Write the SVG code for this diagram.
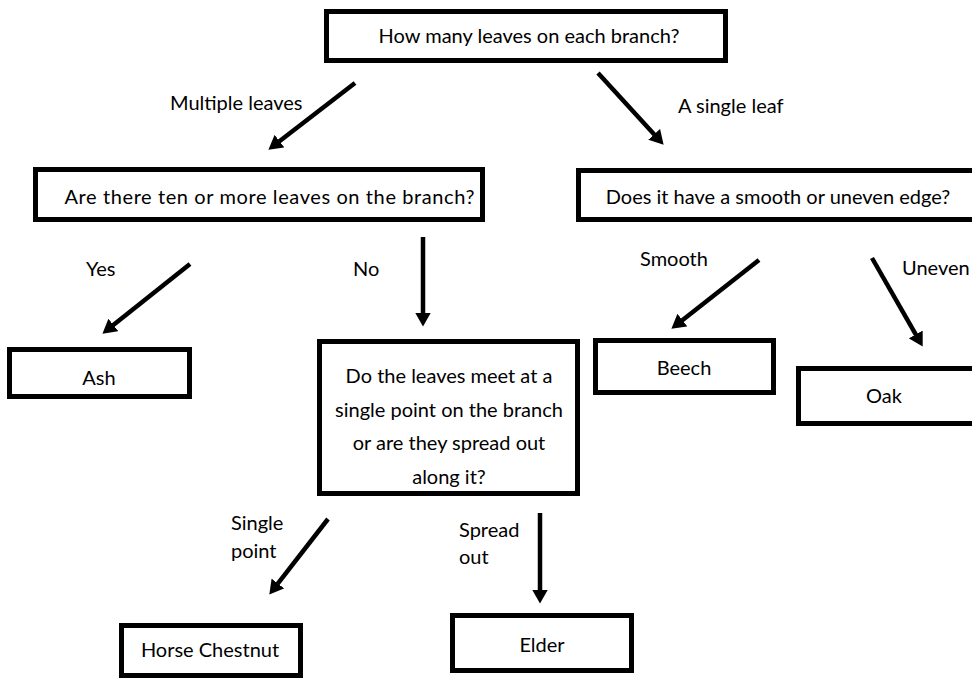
<svg xmlns="http://www.w3.org/2000/svg" width="972" height="678" viewBox="0 0 972 678">
<style>
.box{fill:#fff;stroke:#000;stroke-width:5}
.t{font-family:Lato,"Open Sans","Liberation Sans",sans-serif;font-size:20px;fill:#000}
.c{text-anchor:middle}
.arrow{stroke:#000;stroke-width:4.5;fill:none;marker-end:url(#ah)}
</style>
<defs>
<marker id="ah" markerUnits="userSpaceOnUse" markerWidth="16" markerHeight="16" viewBox="0 0 16 16" refX="0.5" refY="8" orient="auto">
<path d="M0,0 L14,8 L0,16 z" fill="#000"/>
</marker>
</defs>
<rect width="972" height="678" fill="#fff"/>
<g id="connectors">
<line class="arrow" x1="355" y1="83" x2="279.1" y2="141.5"/>
<line class="arrow" x1="598" y1="73" x2="654.5" y2="134.7"/>
<line class="arrow" x1="190" y1="264" x2="113" y2="325.3"/>
<line class="arrow" x1="423" y1="237" x2="423" y2="313"/>
<line class="arrow" x1="759" y1="260" x2="682" y2="320.4"/>
<line class="arrow" x1="872" y1="258" x2="916" y2="334.9"/>
<line class="arrow" x1="328" y1="519" x2="277.6" y2="583.9"/>
<line class="arrow" x1="540" y1="513" x2="540" y2="590"/>
<text class="t" x="170" y="110">Multiple leaves</text>
<text class="t" x="678" y="113">A single leaf</text>
<text class="t" x="86" y="276">Yes</text>
<text class="t" x="353" y="276">No</text>
<text class="t" x="640" y="266">Smooth</text>
<text class="t" x="902" y="275">Uneven</text>
<text class="t" x="231" y="530">Single</text>
<text class="t" x="231" y="558">point</text>
<text class="t" x="459" y="537">Spread</text>
<text class="t" x="459" y="564">out</text>
</g>
<g id="q-branch">
<rect class="box" x="326.5" y="11.5" width="399" height="49"/>
<text class="t c" x="529" y="43">How many leaves on each branch?</text>
</g>
<g id="q-ten">
<rect class="box" x="35.5" y="169.5" width="447" height="50"/>
<text class="t c" x="269.5" y="204" textLength="410" lengthAdjust="spacing">Are there ten or more leaves on the branch?</text>
</g>
<g id="q-edge">
<rect class="box" x="578.5" y="170.5" width="420" height="49"/>
<text class="t c" x="778" y="204">Does it have a smooth or uneven edge?</text>
</g>
<g id="ash">
<rect class="box" x="9.5" y="349.5" width="180" height="47"/>
<text class="t c" x="99" y="385">Ash</text>
</g>
<g id="q-point">
<rect class="box" x="319.5" y="341.5" width="258" height="152"/>
<text class="t c" x="449" y="383">Do the leaves meet at a</text>
<text class="t c" x="449" y="416.5">single point on the branch</text>
<text class="t c" x="449" y="450">or are they spread out</text>
<text class="t c" x="449" y="483.5">along it?</text>
</g>
<g id="beech">
<rect class="box" x="595.5" y="340.5" width="178" height="52"/>
<text class="t c" x="684" y="375">Beech</text>
</g>
<g id="oak">
<rect class="box" x="798.5" y="368.5" width="200" height="55"/>
<text class="t c" x="884" y="403">Oak</text>
</g>
<g id="horse-chestnut">
<rect class="box" x="121.5" y="625.5" width="179" height="50"/>
<text class="t c" x="210" y="657">Horse Chestnut</text>
</g>
<g id="elder">
<rect class="box" x="452.5" y="615.5" width="179" height="55"/>
<text class="t c" x="542" y="652">Elder</text>
</g>
</svg>
